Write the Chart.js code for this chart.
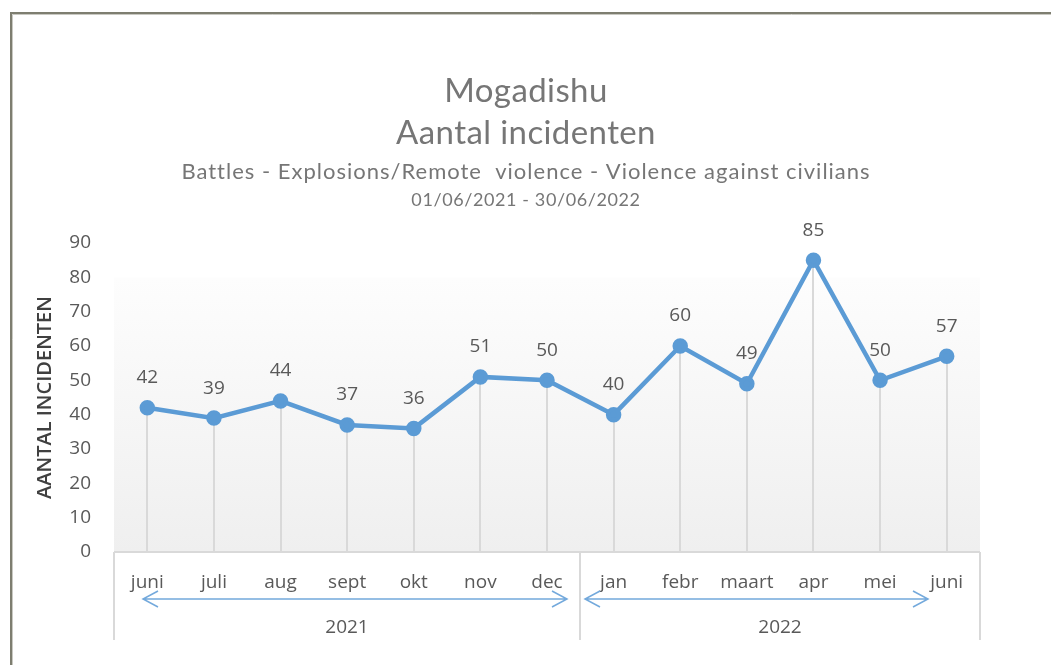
<!DOCTYPE html>
<html>
<head>
<meta charset="utf-8">
<script src="https://cdn.jsdelivr.net/npm/chart.js@4.4.1/dist/chart.umd.min.js"></script>
<style>
    html, body { margin: 0; padding: 0; background: #fff; }
    #wrap { width: 1051px; height: 665px; position: relative; }
</style>
</head>
<body>
<div id="wrap"><canvas id="incidentChart"></canvas></div>
<script>
// Data
const months = ['juni', 'juli', 'aug', 'sept', 'okt', 'nov', 'dec', 'jan', 'febr', 'maart', 'apr', 'mei', 'juni'];
const incidents = [42, 39, 44, 37, 36, 51, 50, 40, 60, 49, 85, 50, 57];
const years = ['2021', '2022'];
const monthsPerYear = [7, 6];
const yMin = 0, yMax = 90, yStep = 10;

const titleLines = ['Mogadishu', 'Aantal incidenten'];
const subtitleText = 'Battles - Explosions/Remote  violence - Violence against civilians';
const periodText = '01/06/2021 - 30/06/2022';
const yAxisTitle = 'AANTAL INCIDENTEN';

const LINE_BLUE = '#5b9bd5';
const ARROW_BLUE = '#73a9dc';
const LABEL_GREY = '#595959';
const RULE_GREY = '#d9d9d9';
const TITLE_GREY = '#767676';

/**
 * Outer frame + titles
 */
const framePlugin = {
    id: 'frame',
    beforeDraw(chart) {
        const ctx = chart.ctx;
        ctx.save();
        ctx.fillStyle = '#fff';
        ctx.fillRect(0, 0, chart.width, chart.height);
        // frame, only top and left visible
        ctx.strokeStyle = '#c9c9c2';
        ctx.lineWidth = 1;
        ctx.beginPath();
        ctx.moveTo(12.5, chart.height);
        ctx.lineTo(12.5, 14.5);
        ctx.lineTo(chart.width, 14.5);
        ctx.stroke();
        ctx.strokeStyle = '#7e7e70';
        ctx.lineWidth = 2;
        ctx.beginPath();
        ctx.moveTo(11, chart.height);
        ctx.lineTo(11, 13);
        ctx.lineTo(chart.width, 13);
        ctx.stroke();

        // titles
        const cx = 526;
        ctx.fillStyle = TITLE_GREY;
        ctx.textAlign = 'center';
        ctx.textBaseline = 'middle';
        ctx.font = '33px Lato';
        ctx.letterSpacing = '0.4px';
        ctx.fillText(titleLines[0], cx, 91);
        ctx.fillText(titleLines[1], cx, 133);
        ctx.font = '22px Lato';
        ctx.letterSpacing = '1px';
        ctx.fillText(subtitleText, cx, 172);
        ctx.font = '18px Lato';
        ctx.letterSpacing = '0.6px';
        ctx.fillText(periodText, cx, 200);
        ctx.letterSpacing = '0px';
        ctx.restore();
    }
};

/**
 * Plot background gradient + drop lines
 */
const plotBackPlugin = {
    id: 'plotBack',
    beforeDatasetsDraw(chart) {
        const { ctx, chartArea, scales: { x, y } } = chart;
        ctx.save();
        const top = y.getPixelForValue(80);
        const grad = ctx.createLinearGradient(0, top, 0, chartArea.bottom);
        grad.addColorStop(0, '#fdfdfd');
        grad.addColorStop(1, '#efefef');
        ctx.fillStyle = grad;
        ctx.fillRect(chartArea.left, top, chartArea.right - chartArea.left, chartArea.bottom - top);

        ctx.strokeStyle = RULE_GREY;
        ctx.lineWidth = 2;
        incidents.forEach((v, i) => {
            const px = Math.round(x.getPixelForValue(i));
            ctx.beginPath();
            ctx.moveTo(px, y.getPixelForValue(v));
            ctx.lineTo(px, chartArea.bottom);
            ctx.stroke();
        });
        ctx.restore();
    }
};

/**
 * Value labels above the points
 */
const valueLabelPlugin = {
    id: 'valueLabels',
    afterDatasetsDraw(chart) {
        const ctx = chart.ctx;
        const meta = chart.getDatasetMeta(0);
        ctx.save();
        ctx.fillStyle = LABEL_GREY;
        ctx.font = '19px "Open Sans"';
        ctx.textAlign = 'center';
        ctx.textBaseline = 'middle';
        meta.data.forEach((pt, i) => {
            ctx.fillText(String(incidents[i]), pt.x, pt.y - 30);
        });
        ctx.restore();
    }
};

function drawArrow(ctx, x1, x2, yPos) {
    ctx.beginPath();
    ctx.moveTo(x1, yPos);
    ctx.lineTo(x2, yPos);
    ctx.moveTo(x1 + 15, yPos - 8);
    ctx.lineTo(x1, yPos);
    ctx.lineTo(x1 + 15, yPos + 8);
    ctx.moveTo(x2 - 15, yPos - 8);
    ctx.lineTo(x2, yPos);
    ctx.lineTo(x2 - 15, yPos + 8);
    ctx.stroke();
}

/**
 * Two-level category axis (months + years)
 */
const categoryAxisPlugin = {
    id: 'categoryAxis',
    afterDraw(chart) {
        const { ctx, chartArea, scales: { x } } = chart;
        const bottom = chartArea.bottom;
        const axisEnd = 640;
        const band = (x.getPixelForValue(1) - x.getPixelForValue(0));
        ctx.save();

        // boundaries
        const bounds = [chartArea.left];
        let idx = 0;
        monthsPerYear.forEach(n => {
            idx += n;
            bounds.push(Math.round(x.getPixelForValue(idx - 1) + band / 2));
        });

        ctx.strokeStyle = RULE_GREY;
        ctx.lineWidth = 2;
        ctx.beginPath();
        ctx.moveTo(chartArea.left, bottom);
        ctx.lineTo(chartArea.right, bottom);
        bounds.forEach(b => {
            ctx.moveTo(b, bottom);
            ctx.lineTo(b, axisEnd);
        });
        ctx.stroke();

        // month labels
        ctx.fillStyle = LABEL_GREY;
        ctx.font = '19px "Open Sans"';
        ctx.textAlign = 'center';
        ctx.textBaseline = 'middle';
        months.forEach((m, i) => {
            ctx.fillText(m, x.getPixelForValue(i), 583);
        });

        // year labels
        years.forEach((yr, i) => {
            ctx.fillText(yr, (bounds[i] + bounds[i + 1]) / 2, 628);
        });

        // arrows
        ctx.strokeStyle = ARROW_BLUE;
        ctx.lineWidth = 1.5;
        drawArrow(ctx, bounds[0] + 29, bounds[1] - 13, 599);
        drawArrow(ctx, bounds[1] + 5, bounds[2] - 52, 599);
        ctx.restore();
    }
};

const ctx = document.getElementById('incidentChart');

new Chart(ctx, {
    type: 'line',
    data: {
        labels: months,
        datasets: [{
            label: 'Aantal incidenten',
            data: incidents,
            borderColor: LINE_BLUE,
            backgroundColor: LINE_BLUE,
            borderWidth: 4.5,
            pointRadius: 5.5,
            pointBackgroundColor: LINE_BLUE,
            pointBorderColor: LINE_BLUE,
            tension: 0,
            fill: false
        }]
    },
    options: {
        responsive: true,
        maintainAspectRatio: false,
        animation: false,
        devicePixelRatio: 1,
        layout: {
            padding: { top: 243, right: 71, bottom: 113, left: 0 }
        },
        plugins: {
            legend: { display: false },
            tooltip: { enabled: false },
            title: { display: false }
        },
        scales: {
            x: {
                type: 'category',
                display: false,
                offset: true
            },
            y: {
                min: yMin,
                max: yMax,
                grid: { display: false, drawTicks: false },
                border: { display: false },
                ticks: {
                    stepSize: yStep,
                    padding: 23,
                    color: LABEL_GREY,
                    font: { family: 'Open Sans', size: 19 }
                },
                title: {
                    display: true,
                    text: yAxisTitle,
                    color: '#404040',
                    font: { family: 'Open Sans', size: 20, weight: '600' },
                    padding: { top: 33, bottom: 0 }
                },
                afterFit(scale) {
                    scale.width = 114;
                }
            }
        }
    },
    plugins: [framePlugin, plotBackPlugin, valueLabelPlugin, categoryAxisPlugin]
});
</script>
</body>
</html>
